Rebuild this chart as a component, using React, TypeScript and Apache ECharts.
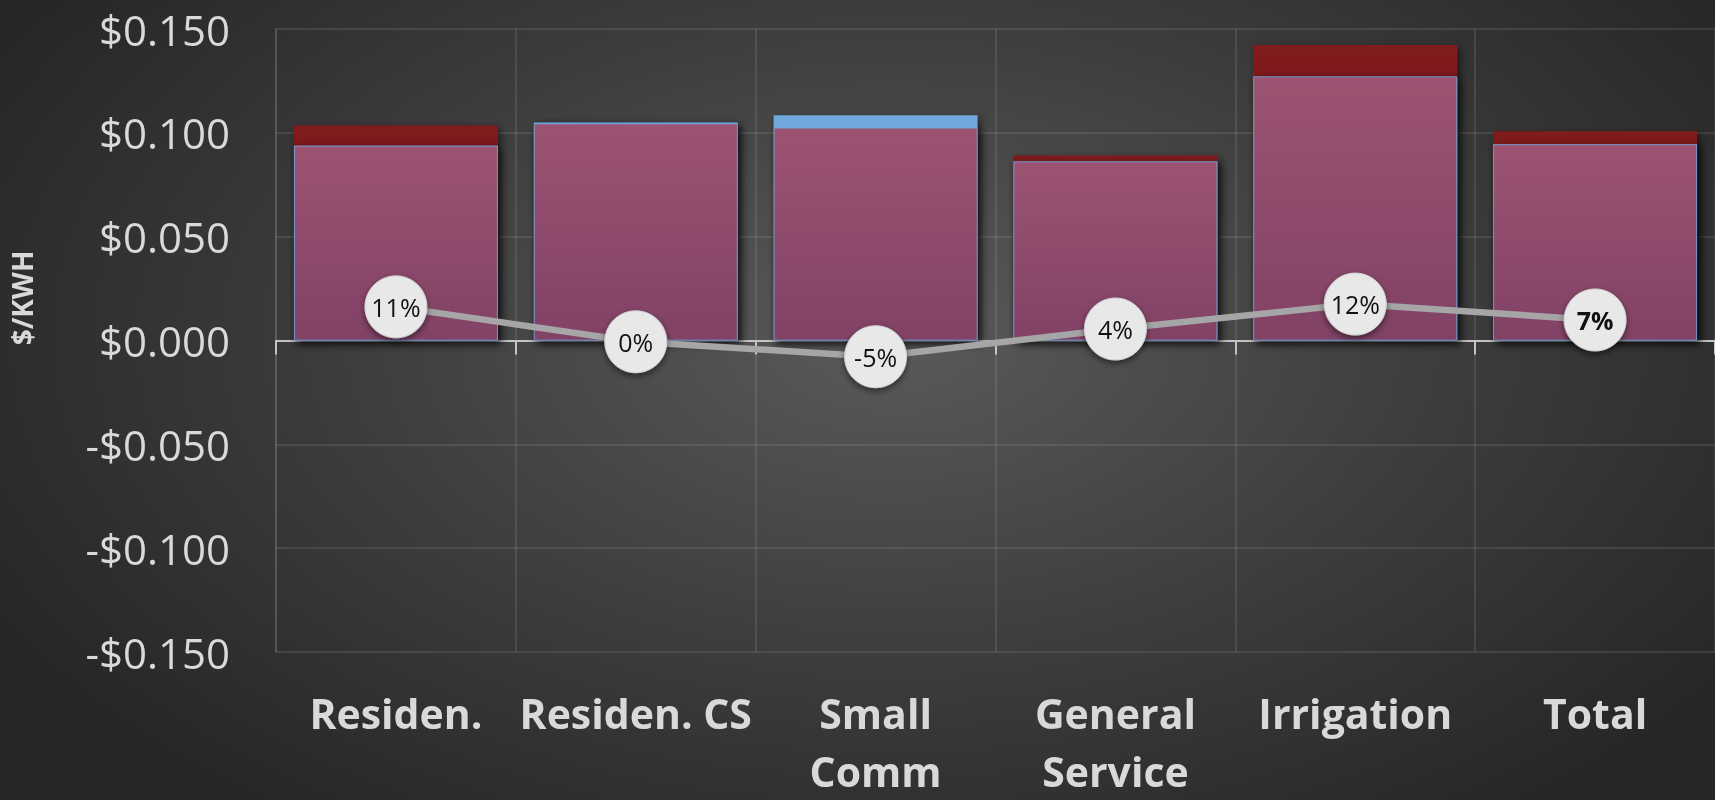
import React, { useEffect, useRef } from "react";
import * as echarts from "echarts";

const categories = ["Residen.", "Residen. CS", "Small\nComm", "General\nService", "Irrigation", "Total"];
const currentRate = [0.0938, 0.1050, 0.1085, 0.0862, 0.1271, 0.0945];
const proposedRate = [0.1035, 0.1045, 0.1025, 0.0891, 0.1423, 0.1008];
const pctChange = [0.108, -0.004, -0.052, 0.037, 0.117, 0.066];
const boldLabelIndex = 5;

const FONT = "'Open Sans', 'Noto Sans', sans-serif";
const TXT = "#d9d9d9";
const GRID = "rgba(255,255,255,0.13)";

export default function App() {
  const ref = useRef<HTMLDivElement>(null);
  useEffect(() => {
    if (!ref.current) return;
    const chart = echarts.init(ref.current, null, { renderer: "svg" });
    const overlap = currentRate.map((c, i) => Math.min(c, proposedRate[i]));
    const barShadow = {
      shadowBlur: 8,
      shadowColor: "rgba(0,0,0,0.55)",
      shadowOffsetX: 3,
      shadowOffsetY: 3,
    };
    chart.setOption({
      animation: false,
      backgroundColor: "transparent",
      grid: { left: 276, right: 0, top: 29, bottom: 138, containLabel: false },
      xAxis: [
        {
          type: "category",
          data: categories,
          position: "bottom",
          axisLine: { show: true, onZero: true, lineStyle: { color: "#c4c4c4", width: 2 } },
          axisTick: { show: true, length: 14, lineStyle: { color: "#c4c4c4", width: 2 } },
          axisLabel: { show: false },
          splitLine: { show: true, lineStyle: { color: GRID, width: 1.5 } },
        },
        {
          type: "category",
          data: categories,
          position: "bottom",
          axisLine: { show: false, onZero: false },
          axisTick: { show: false },
          axisLabel: {
            show: true,
            margin: 32,
            color: TXT,
            fontFamily: FONT,
            fontWeight: "bold",
            fontSize: 41,
            lineHeight: 58,
            interval: 0,
          },
          splitLine: { show: false },
        },
      ],
      yAxis: [
        {
          type: "value",
          min: -0.15,
          max: 0.15,
          interval: 0.05,
          axisLine: { show: true, lineStyle: { color: GRID, width: 1.5 } },
          axisTick: { show: false },
          splitLine: { show: true, lineStyle: { color: GRID, width: 1.5 } },
          axisLabel: {
            margin: 46,
            color: TXT,
            fontFamily: FONT,
            fontSize: 42,
            formatter: (v: number) => (v < 0 ? "-$" + Math.abs(v).toFixed(3) : "$" + v.toFixed(3)),
          },
        },
        {
          type: "value",
          min: -1,
          max: 1,
          show: false,
          splitLine: { show: false },
        },
      ],
      graphic: [
        {
          type: "text",
          x: 22,
          y: 298,
          rotation: Math.PI / 2,
          style: {
            text: "$/KWH",
            fill: TXT,
            font: `bold 28px ${FONT}`,
            align: "center",
            verticalAlign: "middle",
          },
        },
      ],
      series: [
        {
          name: "Proposed",
          type: "bar",
          data: proposedRate,
          barGap: "-100%",
          barCategoryGap: "15%",
          itemStyle: {
            color: new echarts.graphic.LinearGradient(0, 0, 0, 1, [
              { offset: 0, color: "#801a1d" },
              { offset: 1, color: "#701214" },
            ]),
            ...barShadow,
          },
          z: 2,
        },
        {
          name: "Current",
          type: "bar",
          data: currentRate,
          barGap: "-100%",
          barCategoryGap: "15%",
          itemStyle: { color: "#6fa8dc", ...barShadow },
          z: 3,
        },
        {
          name: "Both",
          type: "bar",
          data: overlap,
          barGap: "-100%",
          barCategoryGap: "15%",
          itemStyle: {
            color: new echarts.graphic.LinearGradient(0, 0, 0, 1, [
              { offset: 0, color: "#9c5372" },
              { offset: 1, color: "#814266" },
            ]),
            borderColor: "rgba(111,168,220,0.55)",
            borderWidth: 1,
          },
          z: 4,
        },
        {
          name: "Change",
          type: "line",
          yAxisIndex: 1,
          data: pctChange.map((v, i) =>
            i === boldLabelIndex ? { value: v, label: { fontWeight: "bold" } } : { value: v }
          ),
          symbol: "circle",
          symbolSize: 62,
          lineStyle: { color: "#a6a6a6", width: 6.5 },
          itemStyle: {
            color: "#e8e8e8",
            borderColor: "#d0d0d0",
            borderWidth: 1,
            shadowBlur: 6,
            shadowColor: "rgba(0,0,0,0.5)",
            shadowOffsetY: 3,
          },
          label: {
            show: true,
            position: "inside",
            color: "#111",
            fontFamily: FONT,
            fontSize: 25,
            formatter: (p: any) => Math.round(p.value * 100) + "%",
          },
          z: 10,
        },
      ],
    });
    return () => chart.dispose();
  }, []);
  return (
    <div
      ref={ref}
      style={{
        position: "fixed",
        left: 0,
        top: 0,
        width: 1715,
        height: 800,
        background:
          "radial-gradient(ellipse 60% 75% at 52% 42%, #5a5a5a 0%, #3c3c3c 55%, #262626 100%)",
      }}
    />
  );
}
